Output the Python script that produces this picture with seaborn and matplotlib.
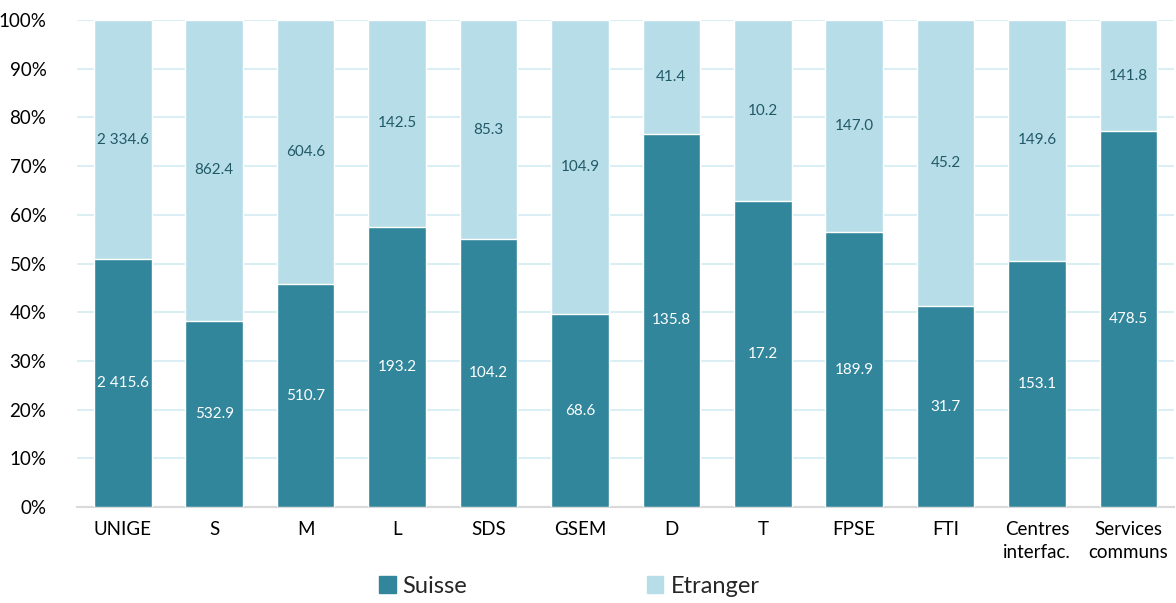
import seaborn as sns
import matplotlib.pyplot as plt
import numpy as np
import pandas as pd
from matplotlib.patches import Patch
from matplotlib.ticker import PercentFormatter

categories = ["UNIGE", "S", "M", "L", "SDS", "GSEM", "D", "T", "FPSE", "FTI",
              "Centres\ninterfac.", "Services\ncommuns"]
suisse = [2415.6, 532.9, 510.7, 193.2, 104.2, 68.6, 135.8, 17.2, 189.9, 31.7, 153.1, 478.5]
etranger = [2334.6, 862.4, 604.6, 142.5, 85.3, 104.9, 41.4, 10.2, 147.0, 45.2, 149.6, 141.8]

dark = "#31869B"
light = "#B7DEE8"

sns.set_theme(style="white")
plt.rcParams["font.family"] = ["Lato", "DejaVu Sans"]

suisse = np.array(suisse)
etranger = np.array(etranger)
total = suisse + etranger
df = pd.DataFrame({
    "cat": categories,
    "suisse_pct": suisse / total * 100,
    "total_pct": np.full(len(categories), 100.0),
})

fig = plt.figure(figsize=(11.76, 6.03), dpi=100)
ax = fig.add_axes([0.0655, 0.159, 0.933, 0.808])

sns.barplot(data=df, x="cat", y="total_pct", color=light, saturation=1, width=0.63, ax=ax, zorder=2)
sns.barplot(data=df, x="cat", y="suisse_pct", color=dark, saturation=1, width=0.63, ax=ax, zorder=3)

for i, (s, e, sp) in enumerate(zip(suisse, etranger, df["suisse_pct"])):
    ax.text(i, sp / 2, f"{s:,.1f}".replace(",", " "), ha="center", va="center",
            color="white", fontsize=11, zorder=4)
    ax.text(i, sp + (100 - sp) / 2, f"{e:,.1f}".replace(",", " "), ha="center", va="center",
            color="#215967", fontsize=11, zorder=4)

ax.set_ylim(0, 100)
ax.set_xlim(-0.5, len(categories) - 0.5)
ax.set_yticks(np.arange(0, 101, 10))
ax.yaxis.set_major_formatter(PercentFormatter(decimals=0))
ax.yaxis.grid(True, color="#DAEEF3", linewidth=1.5, zorder=0)
ax.set_axisbelow(True)
ax.set_xlabel("")
ax.set_ylabel("")
for side in ["left", "right", "top"]:
    ax.spines[side].set_visible(False)
ax.spines["bottom"].set_color("#D9D9D9")
ax.spines["bottom"].set_linewidth(1.5)
ax.tick_params(axis="both", length=0, labelsize=13.5, colors="black")
ax.tick_params(axis="x", pad=10)
ax.tick_params(axis="y", pad=22)
for lbl in ax.get_xticklabels():
    lbl.set_linespacing(1.4)

handles = [Patch(color=dark, label="Suisse"), Patch(color=light, label="Etranger")]
fig.legend(handles=handles, loc="lower center", bbox_to_anchor=(0.484, -0.025), ncol=2,
           frameon=False, fontsize=17, handlelength=0.7, handleheight=0.7,
           handletextpad=0.3, columnspacing=7.6)

plt.savefig("out.png", dpi=100)
